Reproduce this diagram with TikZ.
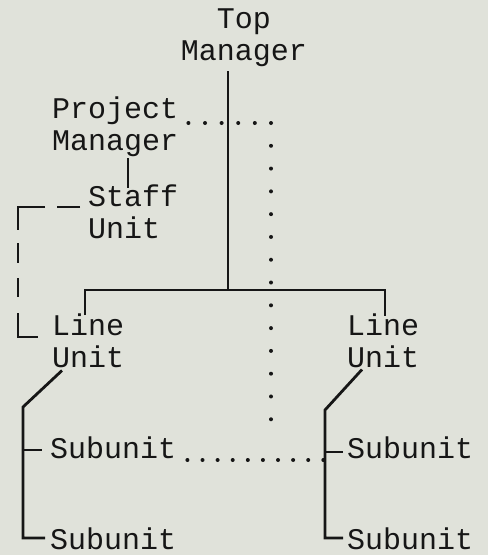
\documentclass[tikz,border=0pt]{standalone}
\usepackage{fontspec}
\setmainfont{Liberation Mono}
\definecolor{bg}{RGB}{224,226,218}
\definecolor{ink}{RGB}{22,22,22}
\begin{document}
\begin{tikzpicture}[x=1pt,y=-1pt,
  lbl/.style={font=\fontsize{30}{32}\selectfont, inner sep=0pt, text=ink, align=left},
  conn/.style={draw=ink, line width=2.8pt},
  dotline/.style={draw=ink, line width=4pt, line cap=round},
  dashline/.style={draw=ink, line width=2.8pt,
    dash pattern=on 23pt off 12pt on 50pt off 13pt on 20pt off 15pt on 19pt off 16pt on 44pt off 50pt}
]
\fill[bg] (0,0) rectangle (488,555);
\useasboundingbox (0,0) rectangle (488,555);

% labels (base anchor = baseline of the last line)
\node[lbl, align=center, anchor=base] (top) at (244,60) {Top\\Manager};
\node[lbl, anchor=base west] (pm) at (52,150) {Project\\Manager};
\node[lbl, anchor=base west] (staff) at (88,238) {Staff\\Unit};
\node[lbl, anchor=base west] (lineL) at (52,367) {Line\\Unit};
\node[lbl, anchor=base west] (lineR) at (347,367) {Line\\Unit};
\node[lbl, anchor=base west] (subL1) at (50,458) {Subunit};
\node[lbl, anchor=base west] (subL2) at (50,549) {Subunit};
\node[lbl, anchor=base west] (subR1) at (347,458) {Subunit};
\node[lbl, anchor=base west] (subR2) at (347,549) {Subunit};

% coordinates
\coordinate (bar) at (228,290);
\coordinate (barL) at (85,290);
\coordinate (barR) at (385,290);
\coordinate (psx) at (128,175);
\coordinate (dashTop) at (18,207);
\coordinate (dashBot) at (18,337);
\coordinate (dotTop) at (271,123);
\coordinate (dotBot) at (271,442);
\coordinate (dotRow) at (0,460);
\coordinate (lsTop) at (23,407);
\coordinate (lsTick) at (23,450);
\coordinate (lsBot) at (23,538);
\coordinate (rsTop) at (325,410);
\coordinate (rsTick) at (325,452);
\coordinate (rsBot) at (325,538);

% solid lines
\draw[conn] ([yshift=-5pt]top.south -| bar) -- (bar);
\draw[conn] ([yshift=-2pt]barL |- lineL.north) -- (barL) -- (barR) -- ([yshift=-3pt]barR |- lineR.north);
\draw[conn] ([yshift=-2pt]psx |- pm.south) -- ([yshift=-4pt]psx |- staff.north);

% dashed staff link
\draw[dashline] ([xshift=-8pt]staff.west |- dashTop) -- (dashTop) -- (dashBot) -- ([xshift=-14pt]lineL.west |- dashBot);

% dotted project links
\draw[dotline, dash pattern=on 0pt off 16.6pt] ([xshift=10pt]pm.east |- dotTop) -- (dotTop);
\draw[dotline, dash pattern=on 0pt off 22.79pt] (dotTop) -- (dotBot);
\draw[dotline, dash pattern=on 0pt off 15.1pt] ([xshift=11pt]subL1.east |- dotRow) -- ([xshift=-9pt]subR1.west |- dotRow);

% left subtree
\draw[conn] ([xshift=10pt,yshift=-3pt]lineL.south west) -- (lsTop) -- (lsBot) -- ([xshift=-5pt]subL2.west |- lsBot);
\draw[conn] (lsTick) -- ([xshift=-8pt]subL1.west |- lsTick);

% right subtree
\draw[conn] ([xshift=15pt,yshift=-2pt]lineR.south west) -- (rsTop) -- (rsBot) -- ([xshift=-4pt]subR2.west |- rsBot);
\draw[conn] (rsTick) -- ([xshift=-4pt]subR1.west |- rsTick);
\end{tikzpicture}
\end{document}
